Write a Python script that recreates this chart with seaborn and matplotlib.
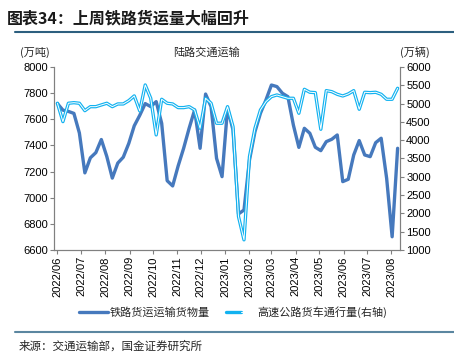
import pandas as pd
import matplotlib
matplotlib.use('Agg')
import matplotlib.pyplot as plt
import matplotlib.dates as mdates
from matplotlib.lines import Line2D
from matplotlib.legend_handler import HandlerTuple
import seaborn as sns

sns.set_style('white')
plt.rcParams['font.family'] = ['Noto Sans CJK SC', 'DejaVu Sans']
plt.rcParams['axes.unicode_minus'] = False

# 周度数据
start_date = '2022-06-01'
rail = [7720, 7670, 7660, 7645, 7495, 7190, 7305, 7345, 7445, 7315,
        7150, 7265, 7310, 7415, 7550, 7630, 7720, 7697, 7735, 7569,
        7130, 7090, 7243, 7378, 7531, 7671, 7378, 7793, 7697, 7301,
        7161, 7684, 7518, 6876, 6906, 7288, 7505, 7646, 7748, 7862,
        7850, 7799, 7773, 7556, 7385, 7531, 7493, 7386, 7360, 7429,
        7447, 7480, 7123, 7141, 7327, 7437, 7327, 7314, 7421, 7455,
        7148, 6701, 7378]
highway = [5009, 4507, 5009, 5025, 5009, 4807, 4916, 4916, 4963, 5009,
           4916, 4990, 4990, 5080, 5210, 4800, 5509, 5145, 4144, 5118,
           5009, 4990, 4890, 4890, 4916, 4826, 4326, 5145, 5009, 4463,
           4463, 4916, 4370, 1913, 1277, 3551, 4326, 4826, 5053, 5190,
           5236, 5190, 5145, 5145, 4736, 5390, 5310, 5299, 4298, 5354,
           5326, 5254, 5208, 5263, 5354, 4845, 5309, 5299, 5309, 5254,
           5118, 5118, 5418]
rail_label = '铁路货运运输货物量'
highway_label = '高速公路货车通行量(右轴)'

dates = pd.date_range(start_date, periods=len(rail), freq='7D')
df = pd.DataFrame({'date': dates, 'rail': rail, 'highway': highway})

dark = '#4679BD'
cyan = '#12B2F0'
spine_c = '#808080'

fig = plt.figure(figsize=(4.54, 3.52), dpi=100)
ax = fig.add_axes([0.1196, 0.2898, 0.881 - 0.1196, 0.8097 - 0.2898])

sns.lineplot(x='date', y='rail', data=df, ax=ax, color=dark, linewidth=2.4, legend=False)
ax2 = ax.twinx()
sns.lineplot(x='date', y='highway', data=df, ax=ax2, color=cyan, linewidth=2.4, legend=False)
sns.lineplot(x='date', y='highway', data=df, ax=ax2, color='white', linewidth=0.7, legend=False)

ax.set_ylim(6600, 8000)
ax.set_yticks(range(6600, 8001, 200))
ax2.set_ylim(1000, 6000)
ax2.set_yticks(range(1000, 6001, 500))
ax.set_xlim(pd.Timestamp('2022-05-28'), pd.Timestamp('2023-08-12'))
ax.xaxis.set_major_locator(mdates.MonthLocator())
ax.xaxis.set_major_formatter(mdates.DateFormatter('%Y/%m'))
for lab in ax.get_xticklabels():
    lab.set_rotation(90)

for a in (ax, ax2):
    a.set_xlabel('')
    a.set_ylabel('')
    a.spines['top'].set_visible(False)
    for s in ('left', 'right', 'bottom'):
        a.spines[s].set_color(spine_c)
        a.spines[s].set_linewidth(0.8)
    a.tick_params(direction='out', length=3, width=0.8, color=spine_c,
                  labelsize=8, labelcolor='black', pad=1.5)
    a.grid(False)
ax.tick_params(axis='y', left=True, right=False)
ax.tick_params(axis='x', bottom=True)
ax2.tick_params(axis='y', right=True)
for lab in ax.get_xticklabels() + ax.get_yticklabels() + ax2.get_yticklabels():
    lab.set_fontfamily(['Liberation Sans', 'DejaVu Sans'])

# 标题与注释
fig.text(0.015, 0.948, '图表34：上周铁路货运量大幅回升', fontsize=11.5, fontweight='bold',
         color='#1a1a1a', va='center', ha='left')
fig.add_artist(Line2D([0.033, 1.0], [0.91, 0.91], color='#2C5F7F', linewidth=1.5))
fig.text(0.454, 0.852, '陆路交通运输', fontsize=8, ha='center', va='center')
fig.text(0.043, 0.852, '(万吨)', fontsize=8, ha='left', va='center')
fig.text(0.881, 0.852, '(万辆)', fontsize=8, ha='left', va='center')
fig.add_artist(Line2D([0.033, 1.0], [0.057, 0.057], color='#5B86A0', linewidth=1.5))
fig.text(0.04, 0.017, '来源：交通运输部，国金证券研究所', fontsize=8.3, ha='left', va='center')

h1 = Line2D([], [], color=dark, linewidth=2.4)
h2 = (Line2D([], [], color=cyan, linewidth=2.4), Line2D([], [], color='white', linewidth=0.7))
fig.legend([h1, h2], [rail_label, highway_label], loc='center', bbox_to_anchor=(0.513, 0.113),
           ncol=2, frameon=False, fontsize=8, handlelength=2.6, handletextpad=0.15,
           columnspacing=1.5, handler_map={tuple: HandlerTuple(ndivide=None, pad=0)})

fig.savefig('out.png', dpi=100)
